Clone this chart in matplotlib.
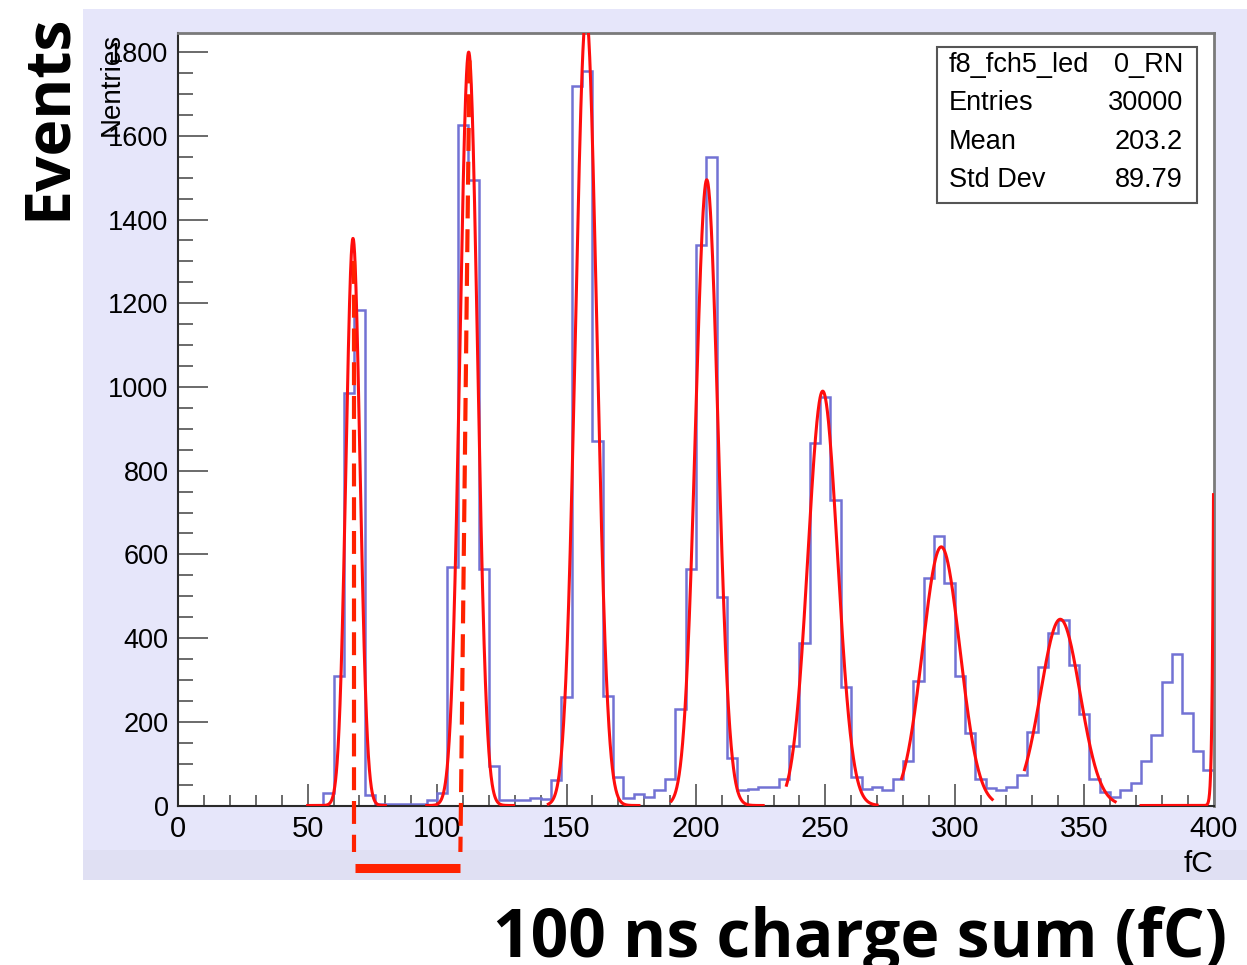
import numpy as np
import matplotlib
matplotlib.use('Agg')
import matplotlib.pyplot as plt
from matplotlib.patches import Rectangle

# histogram: 4 fC bins from 0 to 400
bin_edges = np.arange(0, 404, 4)
counts = [0] * 14 + [
    30, 310, 985, 1185, 25, 3, 3, 3, 3, 3,
    12, 30, 570, 1625, 1495, 565, 95, 12, 12, 12,
    17, 15, 60, 260, 1720, 1755, 870, 262, 67, 18,
    28, 20, 37, 64, 231, 564, 1340, 1550, 497, 113,
    37, 40, 44, 44, 63, 143, 388, 866, 975, 730,
    284, 68, 40, 44, 37, 64, 107, 298, 544, 644,
    532, 309, 174, 64, 42, 37, 45, 73, 176, 330,
    411, 444, 335, 218, 64, 33, 20, 37, 53, 106,
    168, 295, 361, 220, 130, 84]

# gaussian fits per peak: amplitude, mean, sigma, drawn range
fit_amp = [1355, 1800, 1890, 1495, 990, 618, 445, 26000]
fit_mean = [67.5, 112.2, 157.6, 204.2, 249.0, 294.8, 340.8, 404.0]
fit_sigma = [2.7, 3.4, 4.1, 4.35, 5.7, 7.2, 7.6, 1.5]
fit_lo = [50, 96, 143, 190.5, 235, 279.5, 327, 372]
fit_hi = [80, 129.5, 178, 226, 270, 314.5, 362, 400]

# stats box
stats_rows = [("f8_fch5_led", "0_RN"), ("Entries", "30000"),
              ("Mean", "203.2"), ("Std Dev", "89.79")]

# annotation: dashed markers and the bar between them
mark1_x = [67.7, 67.7]
mark1_y = [1300, -111]
mark2_x = [112.5, 109.0]
mark2_y = [1780, -111]
bar_x = [68.2, 108.9]
bar_y = [-149, -149]

W, H = 1247, 965
fig = plt.figure(figsize=(W / 100, H / 100), dpi=100)
fig.patch.set_facecolor('white')

# lavender canvas like the ROOT window
fig.add_artist(Rectangle((82.7 / W, 1 - 880 / H), 1 - 82.7 / W, (880 - 9.3) / H,
                         transform=fig.transFigure, facecolor='#e6e6fa',
                         edgecolor='none', zorder=0))
fig.add_artist(Rectangle((82.7 / W, 1 - 880 / H), 1 - 82.7 / W, 30 / H,
                         transform=fig.transFigure, facecolor='#e0e0f3',
                         edgecolor='none', zorder=0))

ax = fig.add_axes([178.3 / W, 1 - 805.5 / H, (1213.5 - 178.3) / W, (805.5 - 33.3) / H])
ax.set_facecolor('white')
ax.set_xlim(0, 400)
ax.set_ylim(0, 1845)

ax.stairs(counts, bin_edges, color='#7272d4', linewidth=1.8, zorder=2)

for A, mu, sg, lo, hi in zip(fit_amp, fit_mean, fit_sigma, fit_lo, fit_hi):
    xs = np.linspace(lo, hi, 400)
    ax.plot(xs, A * np.exp(-0.5 * ((xs - mu) / sg) ** 2), color='#ff0d0d',
            linewidth=2.2, zorder=3)

ann = '#ff2200'
ax.plot(mark1_x, mark1_y, color=ann, linewidth=3, linestyle=(0, (5.5, 2.6)),
        clip_on=False, zorder=5)
ax.plot(mark2_x, mark2_y, color=ann, linewidth=3, linestyle=(0, (5.5, 2.6)),
        clip_on=False, zorder=5)
ax.plot(bar_x, bar_y, color=ann, linewidth=6.5, solid_capstyle='butt',
        clip_on=False, zorder=5)

font = 'Liberation Sans'
ax.set_xticks(np.arange(0, 401, 50))
ax.set_xticks(np.arange(0, 401, 10), minor=True)
ax.set_yticks(np.arange(0, 1801, 200))
ax.set_yticks(np.arange(0, 1801, 50), minor=True)
ax.tick_params(axis='x', which='major', direction='in', length=15.6, width=1.4,
               color='#6a6a6a', pad=7, labelsize=21)
ax.tick_params(axis='x', which='minor', direction='in', length=7.8, width=1.4,
               color='#6a6a6a')
ax.tick_params(axis='y', which='major', direction='in', length=21.6, width=1.4,
               color='#6a6a6a', pad=7, labelsize=19.5)
ax.tick_params(axis='y', which='minor', direction='in', length=10.8, width=1.4,
               color='#6a6a6a')
for lab in ax.get_xticklabels() + ax.get_yticklabels():
    lab.set_family(font)

for side in ['left', 'bottom']:
    ax.spines[side].set_color('#2a2a2a')
    ax.spines[side].set_linewidth(1.5)
for side in ['top', 'right']:
    ax.spines[side].set_color('#7a7a7a')
    ax.spines[side].set_linewidth(2)

ax.text(-0.064, 1.0, 'Nentries', rotation=90, ha='center', va='top',
        transform=ax.transAxes, fontsize=20, family=font)
ax.text(1.0, -0.058, 'fC', ha='right', va='top', transform=ax.transAxes,
        fontsize=21.5, family=font)

# stats box
ax.add_patch(Rectangle((0.7332, 0.7806), 0.9838 - 0.7332, 0.9819 - 0.7806,
                       transform=ax.transAxes, facecolor='white',
                       edgecolor='#555555', linewidth=1.5, zorder=6))
row_y = [0.9590, 0.9097, 0.8592, 0.8100]
for (left, right), yy in zip(stats_rows, row_y):
    ax.text(0.7444, yy, left, ha='left', va='center', transform=ax.transAxes,
            fontsize=19.5, family=font, zorder=7)
    ax.text(0.9705, yy, right, ha='right', va='center', transform=ax.transAxes,
            fontsize=19.5, family=font, zorder=7)

# big slide labels
fig.text(48 / W, 1 - 116.5 / H, 'Events', rotation=90, ha='center', va='center',
         fontsize=45, family='Open Sans', fontweight='bold')
fig.text(860 / W, 1 - 956.7 / H, '100 ns charge sum (fC)', ha='center',
         va='baseline', fontsize=47.5, family='Open Sans', fontweight='bold')

fig.savefig('out.png', dpi=100)
